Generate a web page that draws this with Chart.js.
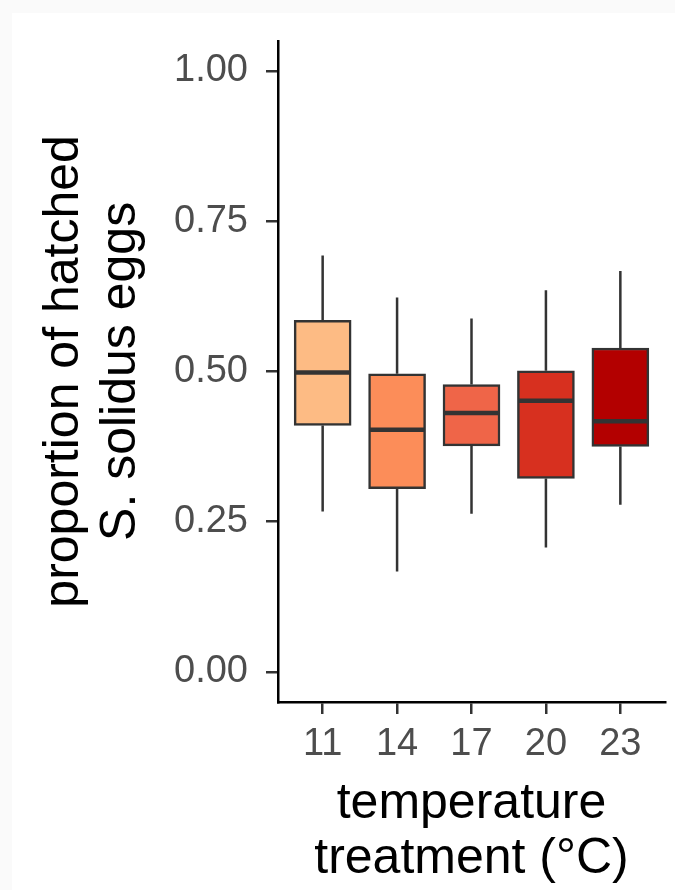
<!DOCTYPE html>
<html><head><meta charset="utf-8">
<script src="https://cdn.jsdelivr.net/npm/chart.js@4"></script>
<style>
html,body{margin:0;padding:0;background:#fafafa;}
#card{position:absolute;left:12px;top:13px;right:0;bottom:0;background:#fff;}
#wrap{position:absolute;left:0;top:0;width:675px;height:890px;}
</style></head><body>
<div id="card"></div>
<div id="wrap"><canvas id="c" width="675" height="890"></canvas></div>
<script>
const categories = ['11','14','17','20','23'];
const whiskerLow  = [0.267,0.167,0.263,0.207,0.278];
const q1          = [0.410,0.305,0.376,0.322,0.375];
const median      = [0.498,0.403,0.431,0.451,0.417];
const q3          = [0.585,0.496,0.478,0.501,0.539];
const whiskerHigh = [0.693,0.623,0.588,0.635,0.667];
const yTicks = [0,0.25,0.5,0.75,1];
const fillColors = ['#FDBB84','#FC8D59','#EF6548','#D7301F','#B30000'];

const FAMILY = '"Liberation Sans", Arial, Helvetica, sans-serif';
const LINE = '#333333';

const boxPlugin = {
  id:'boxExtras',
  beforeDatasetsDraw(chart){
    const {ctx, scales:{x,y}} = chart;
    ctx.save();
    ctx.strokeStyle = LINE; ctx.lineWidth = 2.5;
    categories.forEach((c,i)=>{
      const px = x.getPixelForValue(i+1);
      ctx.beginPath();
      ctx.moveTo(px, y.getPixelForValue(whiskerHigh[i]));
      ctx.lineTo(px, y.getPixelForValue(q3[i]));
      ctx.moveTo(px, y.getPixelForValue(q1[i]));
      ctx.lineTo(px, y.getPixelForValue(whiskerLow[i]));
      ctx.stroke();
    });
    ctx.restore();
  },
  afterDatasetsDraw(chart){
    const {ctx, scales:{y}} = chart;
    const meta = chart.getDatasetMeta(0);
    ctx.save();
    ctx.strokeStyle = LINE; ctx.lineWidth = 4.5;
    meta.data.forEach((el,i)=>{
      const py = y.getPixelForValue(median[i]);
      ctx.beginPath();
      ctx.moveTo(el.x - el.width/2 + 1, py);
      ctx.lineTo(el.x + el.width/2 - 1, py);
      ctx.stroke();
    });
    ctx.restore();
  }
};

new Chart(document.getElementById('c'), {
  type:'bar',
  data:{
    datasets:[{
      data: categories.map((c,i)=>({x:i+1, y:[q1[i], q3[i]]})),
      backgroundColor: fillColors,
      borderColor: LINE,
      borderWidth: 2.5,
      borderSkipped: false,
      barThickness: 57
    }]
  },
  options:{
    responsive:false,
    animation:false,
    layout:{padding:{top:40,right:10,left:0,bottom:0}},
    plugins:{legend:{display:false}, tooltip:{enabled:false}},
    scales:{
      x:{
        type:'linear', min:0.4, max:5.6, offset:false,
        afterBuildTicks(s){ s.ticks = categories.map((c,i)=>({value:i+1})); },
        afterFit(s){ s.height = 188; },
        grid:{drawOnChartArea:false, drawTicks:true, tickLength:12, color:LINE, lineWidth:2.5, offset:false},
        border:{display:true, color:'#000', width:2.5},
        ticks:{
          callback:(v)=>categories[Math.round(v)-1],
          color:'#4d4d4d', font:{size:38, family:FAMILY}, padding:8, maxRotation:0, autoSkip:false
        },
        title:{display:true, text:['temperature','treatment (°C)'], color:'#000',
          font:{size:50, family:FAMILY, lineHeight:1.1}, padding:{top:0,bottom:3}}
      },
      y:{
        min:-0.05, max:1.05,
        afterBuildTicks(s){ s.ticks = yTicks.map(v=>({value:v})); },
        afterFit(s){ s.width = 278; },
        grid:{drawOnChartArea:false, drawTicks:true, tickLength:12, color:LINE, lineWidth:2.5},
        border:{display:true, color:'#000', width:2.5},
        ticks:{
          callback:(v)=>Number(v).toFixed(2),
          color:'#4d4d4d', font:{size:38, family:FAMILY}, padding:18
        },
        title:{display:true, text:['proportion of hatched','S. solidus eggs'], color:'#000',
          font:{size:50, family:FAMILY, lineHeight:1.14}, padding:{top:36,bottom:0}}
      }
    }
  },
  plugins:[boxPlugin]
});
</script>
</body></html>
